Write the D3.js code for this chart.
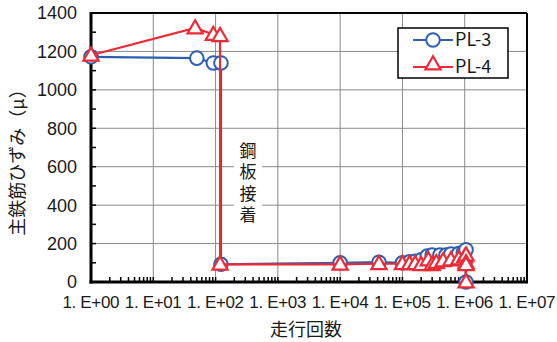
<!DOCTYPE html>
<html>
<head>
<meta charset="utf-8">
<script src="https://cdn.jsdelivr.net/npm/d3@7"></script>
<style>
  html, body { margin: 0; padding: 0; background: #fff; }
  svg { display: block; }
  text { font-family: "Noto Sans CJK JP", "Liberation Sans", sans-serif; fill: #1a1a1a; }
  text.num { font-family: "Liberation Sans", Arial, sans-serif; }
</style>
</head>
<body>
<svg id="chart" width="557" height="342"></svg>
<script>
// Cycle counts (走行回数) and rebar strain (μ) per specimen
const pl3Cycles = [1, 50, 92, 122, 122, 1e4, 4.2e4, 1e5, 1.3e5, 1.6e5, 2e5, 2.5e5, 3e5, 4e5, 5e5, 6e5, 8e5, 9.5e5, 1.05e6, 1.05e6];
const pl3Strain = [1172, 1165, 1140, 1140, 92, 100, 103, 100, 105, 108, 115, 135, 140, 140, 140, 145, 148, 155, 168, 0];

const pl4Cycles = [1, 47, 92, 118, 118, 1e4, 4.2e4, 1e5, 1.3e5, 1.6e5, 2e5, 2.6e5, 3e5, 3.5e5, 4.5e5, 6e5, 8e5, 1e6, 1.05e6, 1.05e6, 1.05e6, 1.05e6];
const pl4Strain = [1180, 1322, 1288, 1282, 92, 92, 95, 95, 95, 95, 90, 115, 90, 100, 110, 115, 120, 130, 140, 100, 90, 0];

const seriesNames = ["PL-3", "PL-4"];
const yTicks = [0, 200, 400, 600, 800, 1000, 1200, 1400];
const xTicks = [1, 1e1, 1e2, 1e3, 1e4, 1e5, 1e6, 1e7];
const xTickLabels = ["1. E+00", "1. E+01", "1. E+02", "1. E+03", "1. E+04", "1. E+05", "1. E+06", "1. E+07"];
const yTitle = "主鉄筋ひずみ（μ）";
const xTitle = "走行回数";
const noteText = "鋼板接着";

const blue = "#2f5fb0";
const red = "#ee2a36";

const svg = d3.select("#chart");
const L = 91, R = 527, T = 13, B = 282;

const x = d3.scaleLog().domain([1, 1e7]).range([L, R]);
const y = d3.scaleLinear().domain([0, 1400]).range([B, T]);

// gridlines
const grid = svg.append("g");
grid.selectAll(".gy").data(yTicks.slice(1, -1)).enter().append("line")
  .attr("x1", L).attr("x2", R).attr("y1", d => y(d)).attr("y2", d => y(d))
  .attr("stroke", "#8a8a8a").attr("stroke-width", 1);
grid.selectAll(".gx").data(xTicks.slice(1, -1)).enter().append("line")
  .attr("y1", T).attr("y2", B).attr("x1", d => x(d)).attr("x2", d => x(d))
  .attr("stroke", "#8a8a8a").attr("stroke-width", 1);

// minor ticks on the y axis (every 100), pointing inward
const yMinor = d3.range(100, 1400, 100);
svg.append("g").selectAll("line").data(yMinor).enter().append("line")
  .attr("x1", L).attr("x2", L + 5).attr("y1", d => y(d)).attr("y2", d => y(d))
  .attr("stroke", "#000").attr("stroke-width", 1.5);

// minor log ticks on the x axis, pointing inward
const xMinor = [];
for (let e = 0; e < 7; e++) for (let m = 2; m <= 10; m++) xMinor.push(m * Math.pow(10, e));
svg.append("g").selectAll("line").data(xMinor).enter().append("line")
  .attr("x1", d => x(d)).attr("x2", d => x(d)).attr("y1", B).attr("y2", B - 5)
  .attr("stroke", "#000").attr("stroke-width", 1.5);

// frame
svg.append("line").attr("x1", L).attr("x2", R).attr("y1", T).attr("y2", T).attr("stroke", "#000").attr("stroke-width", 2);
svg.append("line").attr("x1", R).attr("x2", R).attr("y1", T).attr("y2", B).attr("stroke", "#000").attr("stroke-width", 2);
svg.append("line").attr("x1", L).attr("x2", L).attr("y1", T - 1).attr("y2", B + 1.5).attr("stroke", "#000").attr("stroke-width", 3);
svg.append("line").attr("x1", L - 1.5).attr("x2", R + 1).attr("y1", B).attr("y2", B).attr("stroke", "#000").attr("stroke-width", 3);

// tick labels
svg.append("g").selectAll("text").data(yTicks).enter().append("text")
  .attr("class", "num")
  .attr("x", L - 14).attr("y", d => y(d)).attr("dy", "0.36em")
  .attr("text-anchor", "end").attr("font-size", 18).text(d => d);
svg.append("g").selectAll("text").data(xTicks).enter().append("text")
  .attr("class", "num")
  .attr("x", d => x(d)).attr("y", 308)
  .attr("text-anchor", "middle").attr("font-size", 17)
  .attr("textLength", 57).attr("lengthAdjust", "spacing")
  .text((d, i) => xTickLabels[i]);

// axis titles
svg.append("text").attr("transform", "translate(24,158) rotate(-90)")
  .attr("text-anchor", "middle").attr("font-size", 18).text(yTitle);
svg.append("text").attr("x", 306).attr("y", 336)
  .attr("text-anchor", "middle").attr("font-size", 18).text(xTitle);

// vertical annotation with white backing
const noteX = 248;
svg.append("rect").attr("x", noteX - 14).attr("y", 141).attr("width", 28).attr("height", 88).attr("fill", "#fff");
svg.append("text")
  .attr("x", noteX).attr("y", 185)
  .style("writing-mode", "vertical-rl")
  .attr("text-anchor", "middle").attr("font-size", 17)
  .style("letter-spacing", "4.5px")
  .text(noteText);

// series
const line = d3.line().x(d => x(d[0])).y(d => y(d[1]));
const pl3 = pl3Cycles.map((c, i) => [c, pl3Strain[i]]);
const pl4 = pl4Cycles.map((c, i) => [c, pl4Strain[i]]);

const tri = d3.symbol().type(d3.symbolTriangle).size(100);

function drawSeries(data, color, kind) {
  const g = svg.append("g");
  g.append("path").datum(data).attr("d", line)
    .attr("fill", "none").attr("stroke", color).attr("stroke-width", 2.2);
  if (kind === "circle") {
    g.selectAll("circle").data(data).enter().append("circle")
      .attr("cx", d => x(d[0])).attr("cy", d => y(d[1])).attr("r", 6.8)
      .attr("fill", "#fff").attr("stroke", color).attr("stroke-width", 2);
  } else {
    g.selectAll("path.m").data(data).enter().append("path").attr("class", "m")
      .attr("d", tri).attr("transform", d => `translate(${x(d[0])},${y(d[1]) + 1})`)
      .attr("fill", "#fff").attr("stroke", color).attr("stroke-width", 2.2);
  }
}
drawSeries(pl3, blue, "circle");
drawSeries(pl4, red, "triangle");

// legend
const lg = svg.append("g");
lg.append("rect").attr("x", 398).attr("y", 28).attr("width", 110).attr("height", 50)
  .attr("fill", "#fff").attr("stroke", "#000").attr("stroke-width", 1.5);
const legendRows = [{ name: seriesNames[0], color: blue, kind: "circle", cy: 40 },
                    { name: seriesNames[1], color: red, kind: "triangle", cy: 67 }];
legendRows.forEach(r => {
  lg.append("line").attr("x1", 413).attr("x2", 453).attr("y1", r.cy).attr("y2", r.cy)
    .attr("stroke", r.color).attr("stroke-width", 2.2);
  if (r.kind === "circle") {
    lg.append("circle").attr("cx", 433).attr("cy", r.cy).attr("r", 6.8)
      .attr("fill", "#fff").attr("stroke", r.color).attr("stroke-width", 2);
  } else {
    lg.append("path").attr("d", tri).attr("transform", `translate(433,${r.cy - 2})`)
      .attr("fill", "#fff").attr("stroke", r.color).attr("stroke-width", 2.2);
  }
  lg.append("text").attr("x", 455).attr("y", r.cy).attr("dy", "0.36em")
    .attr("font-size", 18).text(r.name);
});
</script>
</body>
</html>
